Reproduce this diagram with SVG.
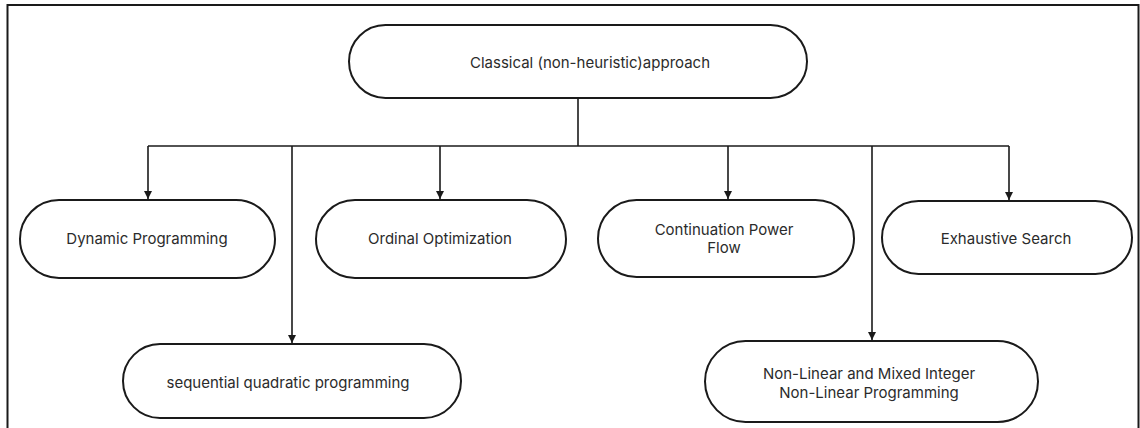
<svg xmlns="http://www.w3.org/2000/svg" width="1140" height="428" viewBox="0 0 1140 428">
<style>
.node{fill:#fff;stroke:#1a1a1a;stroke-width:2}
.lbl{font-family:Inter,"Liberation Sans",sans-serif;font-size:15px;fill:#2b2b2b;text-anchor:middle}
.con{fill:none;stroke:#1a1a1a;stroke-width:1.6}
</style>
<defs>
<marker id="arr" viewBox="0 0 10 10" refX="10" refY="5" markerWidth="5" markerHeight="5" orient="auto" markerUnits="strokeWidth">
<path d="M0,0 L10,5 L0,10 Z" fill="#1a1a1a"/>
</marker>
</defs>
<rect x="0" y="0" width="1140" height="428" fill="#fff"/>
<rect x="7.5" y="5" width="1131" height="440" fill="none" stroke="#1a1a1a" stroke-width="2"/>
<g id="connectors">
<path class="con" d="M578,98 V146"/>
<path class="con" d="M148,146 H1009"/>
<path class="con" d="M148,146 V199" marker-end="url(#arr)"/>
<path class="con" d="M440,146 V199" marker-end="url(#arr)"/>
<path class="con" d="M728,146 V199" marker-end="url(#arr)"/>
<path class="con" d="M1009,146 V200" marker-end="url(#arr)"/>
<path class="con" d="M292,146 V343" marker-end="url(#arr)"/>
<path class="con" d="M872,146 V340" marker-end="url(#arr)"/>
</g>
<g id="root">
<rect class="node" x="349" y="25" width="458" height="73" rx="36.5"/>
<text class="lbl" x="590" y="67.5">Classical (non-heuristic)approach</text>
</g>
<g id="dynamic">
<rect class="node" x="20" y="200" width="255" height="78" rx="39"/>
<text class="lbl" x="147" y="243.5">Dynamic Programming</text>
</g>
<g id="ordinal">
<rect class="node" x="316" y="200" width="250" height="78" rx="39"/>
<text class="lbl" x="440" y="243.5">Ordinal Optimization</text>
</g>
<g id="continuation">
<rect class="node" x="598" y="200" width="256" height="77" rx="38.5"/>
<text class="lbl" x="724" y="234.5">Continuation Power</text>
<text class="lbl" x="724" y="252.5">Flow</text>
</g>
<g id="exhaustive">
<rect class="node" x="882" y="201" width="250" height="73" rx="36.5"/>
<text class="lbl" x="1006" y="243.5">Exhaustive Search</text>
</g>
<g id="sqp">
<rect class="node" x="123" y="344" width="338" height="74" rx="37"/>
<text class="lbl" x="288" y="387.5">sequential quadratic programming</text>
</g>
<g id="nlp">
<rect class="node" x="705" y="341" width="333" height="81" rx="40.5"/>
<text class="lbl" x="869" y="378.5">Non-Linear and Mixed Integer</text>
<text class="lbl" x="869" y="397.5">Non-Linear Programming</text>
</g>
</svg>
